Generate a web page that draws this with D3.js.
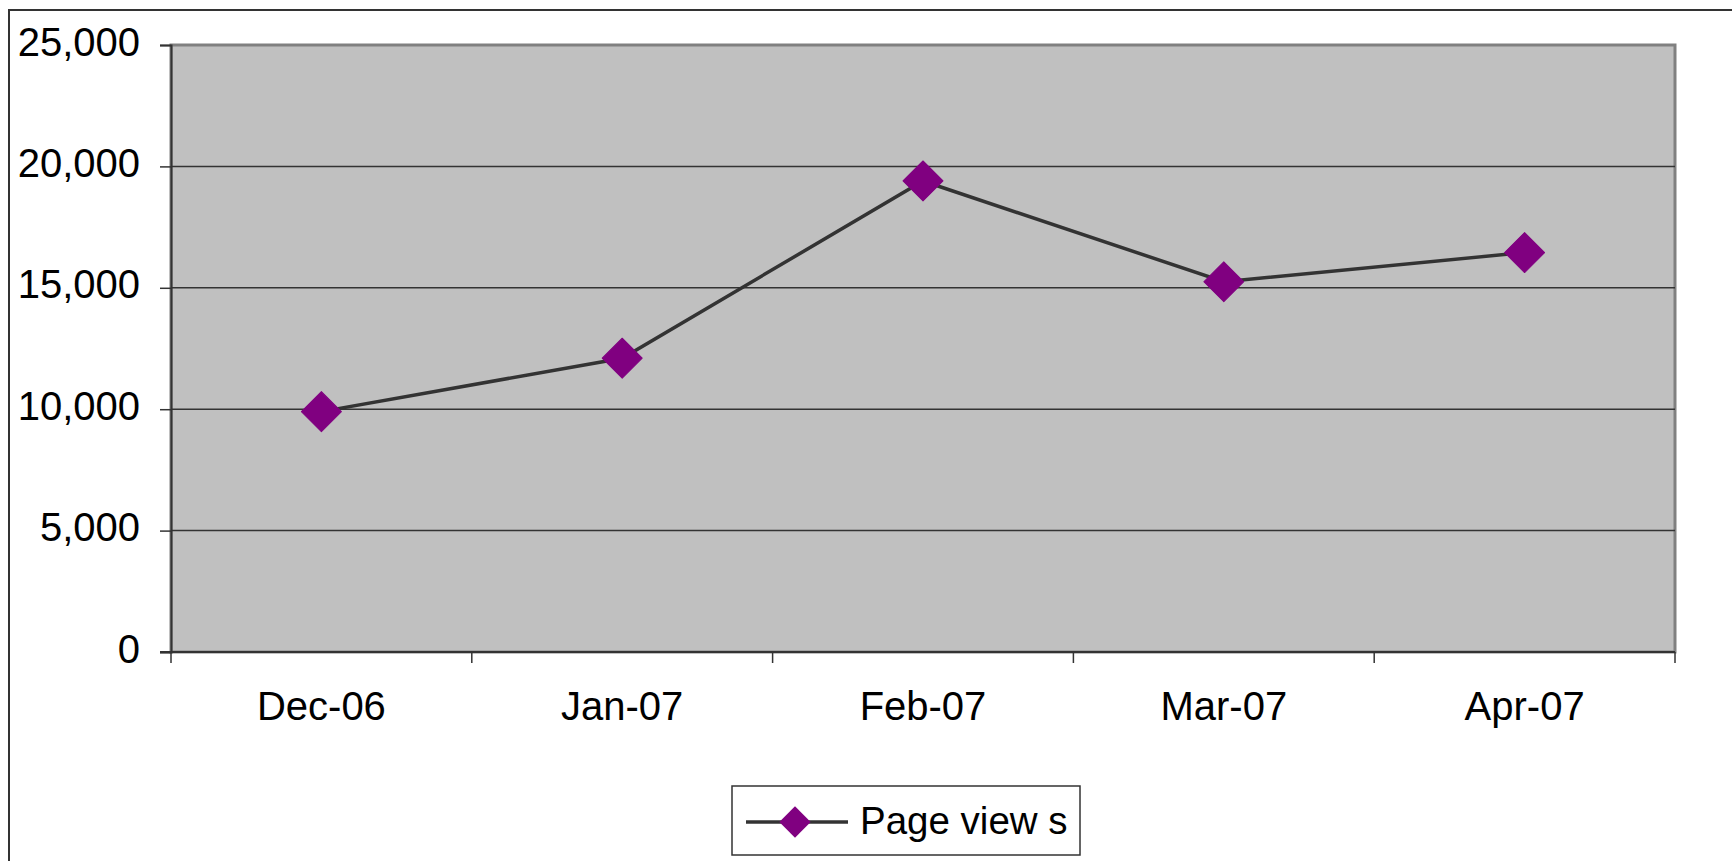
<!DOCTYPE html>
<html lang="en">

<head>
    <meta charset="UTF-8">
    <title>Page views</title>
    <script src="https://cdn.jsdelivr.net/npm/d3@7"></script>
    <style>
        body {
            margin: 0;
            padding: 0;
            overflow: hidden;
            background: #fff;
        }

        svg {
            display: block;
            font-family: "Liberation Sans", Arial, sans-serif;
        }
    </style>
</head>

<body>
    <svg id="demo" width="1732" height="861"></svg>

    <script>
        var months = ["Dec-06", "Jan-07", "Feb-07", "Mar-07", "Apr-07"];
        var pageViews = [9900, 12100, 19400, 15250, 16450];
        var yTicks = [0, 5000, 10000, 15000, 20000, 25000];
        var seriesName = "Page view s";

        var svg = d3.select("#demo");
        // note: "top" is taken by window.top, so plot edges get their own names
        var plotL = 171, plotR = 1675, plotT = 45, plotB = 652;

        var xScale = d3.scaleBand().domain(months).range([plotL, plotR]).padding(0);
        var yScale = d3.scaleLinear().domain([0, 25000]).range([plotB, plotT]);

        // outer chart frame (runs past the picture on right and bottom)
        svg.append("rect")
            .attr("x", 9).attr("y", 10)
            .attr("width", 1760).attr("height", 900)
            .attr("fill", "none").attr("stroke", "#333").attr("stroke-width", 2);

        // plot area
        svg.append("rect")
            .attr("x", plotL).attr("y", plotT)
            .attr("width", plotR - plotL).attr("height", plotB - plotT)
            .attr("fill", "#c0c0c0")
            .attr("stroke", "#808080").attr("stroke-width", 3);

        // grid lines
        svg.append("g").selectAll("line")
            .data(yTicks.filter(d => d > 0 && d < 25000))
            .join("line")
            .attr("x1", plotL).attr("x2", plotR)
            .attr("y1", d => yScale(d)).attr("y2", d => yScale(d))
            .attr("stroke", "#333").attr("stroke-width", 1.5);

        // y axis
        var yAxis = d3.axisLeft(yScale)
            .tickValues(yTicks)
            .tickSize(11)
            .tickPadding(20)
            .tickFormat(d3.format(","));
        var gy = svg.append("g").attr("transform", "translate(" + plotL + ",0)").call(yAxis);
        gy.select(".domain").attr("stroke", "#333").attr("stroke-width", 2);
        gy.selectAll(".tick line").attr("stroke", "#333").attr("stroke-width", 1.5);
        gy.selectAll(".tick text")
            .attr("font-size", 40).attr("fill", "#000")
            .attr("font-family", "Liberation Sans, Arial, sans-serif")
            .attr("dy", "0.25em");

        // x axis
        svg.append("line")
            .attr("x1", plotL - 11).attr("x2", plotR)
            .attr("y1", plotB).attr("y2", plotB)
            .attr("stroke", "#333").attr("stroke-width", 2);
        var edges = months.map(m => xScale(m)).concat([plotR]);
        svg.append("g").selectAll("line")
            .data(edges)
            .join("line")
            .attr("x1", d => d).attr("x2", d => d)
            .attr("y1", plotB).attr("y2", plotB + 11)
            .attr("stroke", "#333").attr("stroke-width", 1.5);
        svg.append("g").selectAll("text")
            .data(months)
            .join("text")
            .attr("x", d => xScale(d) + xScale.bandwidth() / 2)
            .attr("y", 720)
            .attr("text-anchor", "middle")
            .attr("font-size", 40)
            .text(d => d);

        // series line
        var pts = months.map((m, i) => ({ m: m, v: pageViews[i] }));
        var line = d3.line()
            .x(d => xScale(d.m) + xScale.bandwidth() / 2)
            .y(d => yScale(d.v));
        svg.append("path")
            .attr("d", line(pts))
            .attr("fill", "none")
            .attr("stroke", "#333")
            .attr("stroke-width", 3.5);

        var diamond = d3.symbol().type(d3.symbolSquare).size(800);
        svg.append("g").selectAll("path")
            .data(pts)
            .join("path")
            .attr("d", diamond)
            .attr("transform", d => "translate(" + (xScale(d.m) + xScale.bandwidth() / 2) + "," + yScale(d.v) + ") rotate(45)")
            .attr("fill", "#800080")
            .attr("stroke", "#800080")
            .attr("stroke-width", 1)
            .attr("stroke-linejoin", "round");

        // legend
        var lg = svg.append("g");
        lg.append("rect")
            .attr("x", 732).attr("y", 786)
            .attr("width", 348).attr("height", 69)
            .attr("fill", "#fff").attr("stroke", "#333").attr("stroke-width", 1.5);
        lg.append("line")
            .attr("x1", 746).attr("x2", 848)
            .attr("y1", 822).attr("y2", 822)
            .attr("stroke", "#333").attr("stroke-width", 3.5);
        lg.append("path")
            .attr("d", d3.symbol().type(d3.symbolSquare).size(490))
            .attr("transform", "translate(795,822) rotate(45)")
            .attr("fill", "#800080");
        lg.append("text")
            .attr("x", 860).attr("y", 834)
            .attr("font-size", 38.5)
            .text(seriesName);
    </script>
</body>

</html>
